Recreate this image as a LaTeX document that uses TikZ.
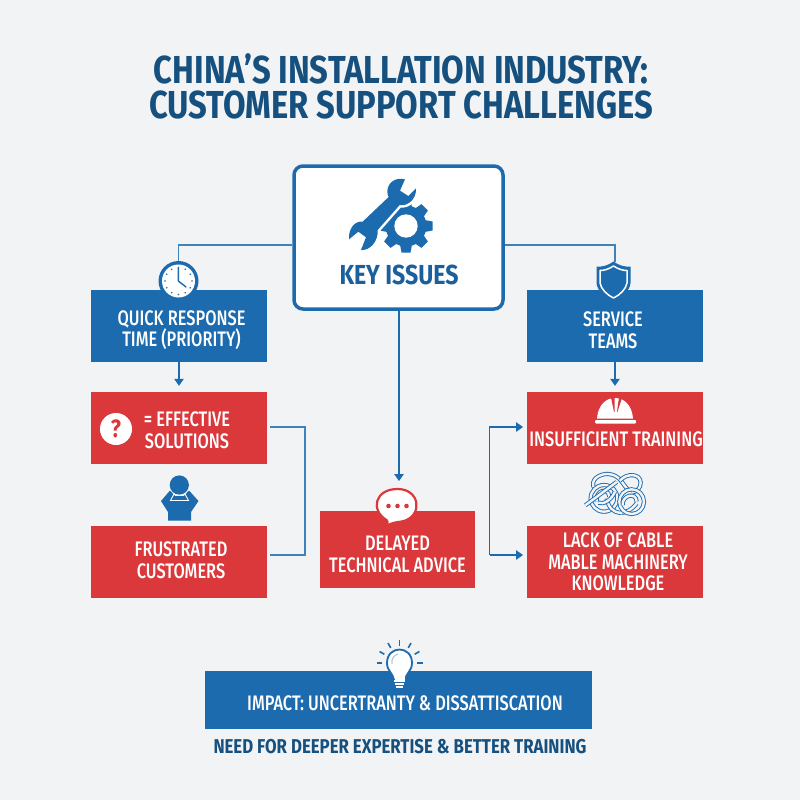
\documentclass[tikz,border=0pt]{standalone}
\usepackage{fontspec}
\setmainfont[FakeStretch=0.78]{Fira Sans Medium}
\newfontfamily\heavyfont[FakeStretch=0.84]{Fira Sans Bold}
\usetikzlibrary{arrows.meta,calc}
\definecolor{bgc}{HTML}{F2F3F5}
\definecolor{bluec}{HTML}{1C6BAE}
\definecolor{redc}{HTML}{DB383C}
\definecolor{navyc}{HTML}{16507F}
\definecolor{keyc}{HTML}{1B5F9C}
\definecolor{linec}{HTML}{3F83BC}
\tikzset{
 panel/.style={draw=none,minimum width=176pt,minimum height=72pt,inner sep=0pt},
 bluepanel/.style={panel,fill=bluec},
 redpanel/.style={panel,fill=redc},
 paneltext/.style={text=white,align=center,inner sep=0pt,font=\fontsize{21}{21.5}\selectfont},
 conn/.style={draw=linec,line width=1.2pt},
 arrowconn/.style={conn,draw=bluec,-{Triangle[length=7pt,width=9.5pt]}},
 cable/.style={draw=bluec,line width=0.9pt,double=bgc,double distance=2.4pt},
 titletext/.style={text=navyc,font=\heavyfont\fontsize{39}{35}\selectfont,align=center,inner sep=0pt},
}
\begin{document}
\begin{tikzpicture}[x=1pt,y=-1pt]
\useasboundingbox (0,0) rectangle (800,800);
\fill[bgc] (0,0) rectangle (800,800);
\node[titletext] (title) at (401,86.5) {CHINA’S INSTALLATION INDUSTRY:\\CUSTOMER SUPPORT CHALLENGES};

% key box
\node[draw=bluec,line width=3.5pt,fill=white,rounded corners=9pt,minimum width=209pt,minimum height=143pt,inner sep=0pt] (key) at (398.5,237.5) {};
\node[text=keyc,font=\heavyfont\fontsize{27.5}{28}\selectfont,inner sep=0pt] (keylabel) at (399,275) {KEY ISSUES};

% gear
\foreach \a in {0,45,...,315}{
 \fill[bluec,rotate around={\a:(406,226)}] (401.5,199.5) -- (410.5,199.5) -- (412.5,210) -- (399.5,210) -- cycle;
}
\fill[bluec] (406,226) circle (20.5);
\fill[white] (406,226) circle (11.7);
% wrench
\begin{scope}[shift={(280,150)},x=0.3333pt,y=-0.3333pt]
\def\wrenchpath{(375,88) .. controls (345,80) and (322,100) .. (322,125) .. controls (322,132) and (324,138) .. (326,141) -- (248,215) .. controls (225,212) and (205,235) .. (207,268) -- (235,245) -- (258,262) -- (243,300) .. controls (270,302) and (295,275) .. (293,240) -- (359,165) .. controls (385,170) and (410,145) .. (408,115) -- (385,138) -- (360,122) -- cycle}
\draw[white,line width=5pt,line join=round] \wrenchpath;
\fill[bluec] \wrenchpath;
\end{scope}

% panels
\node[bluepanel] (quick) at (179,325.5) {};
\node[paneltext] (quicklabel) at (181.5,330) {QUICK RESPONSE\\TIME (PRIORITY)};
\node[redpanel] (effective) at (179,428) {};
\node[paneltext] (efflabel) at (187,430) {= EFFECTIVE\\SOLUTIONS};
\node[redpanel] (frustrated) at (179,562) {};
\node[paneltext] (frulabel) at (181,560) {FRUSTRATED\\CUSTOMERS};
\node[bluepanel] (service) at (615,325.5) {};
\node[paneltext] (servlabel) at (613,330) {SERVICE\\TEAMS};
\node[redpanel] (insufficient) at (615,428) {};
\node[paneltext] (inslabel) at (616,439) {INSUFFICIENT TRAINING};
\node[redpanel] (lack) at (615,562) {};
\node[paneltext] (lacklabel) at (618,562) {LACK OF CABLE\\MABLE MACHINERY\\KNOWLEDGE};
\node[redpanel,minimum width=155pt,minimum height=77pt] (delayed) at (397.5,549.5) {};
\node[paneltext] (dellabel) at (397.5,554.5) {DELAYED\\TECHNICAL ADVICE};
\node[bluepanel,minimum width=387pt,minimum height=58pt] (impact) at (398.5,700) {};
\node[paneltext] (implabel) at (405,703) {IMPACT: UNCERTRANTY \& DISSATTISCATION};
\node[text=navyc,inner sep=0pt,font=\heavyfont\fontsize{20}{21}\selectfont] (need) at (400,746.7) {NEED FOR DEEPER EXPERTISE \& BETTER TRAINING};

% connectors from the key box
\coordinate (clocktop) at (178.5,262);
\coordinate (shieldtop) at (615,262);
\draw[conn] (key.west |- 0,245) -- (clocktop |- 0,245) -- (clocktop);
\draw[conn] (key.east |- 0,245) -- (shieldtop |- 0,245) -- (shieldtop);

% clock
\fill[bluec] (178.5,281) circle (20);
\fill[white] (178.5,281) circle (16.5);
\foreach \a in {0,30,...,330}{\fill[bluec] ($(178.5,281)+(\a:13.5)$) circle (0.9);}
\draw[bluec,line width=1.4pt,line cap=round] (178.3,268) -- (178.3,281) -- (186,287);

% vertical arrows
\draw[arrowconn,shorten >=6pt] (quick.south) -- (effective.north);
\draw[arrowconn,shorten >=6pt] (service.south) -- (insufficient.north);
\coordinate (delaytip) at (399,481);
\draw[arrowconn] (key.south -| delaytip) -- (delaytip);

% left bracket
\coordinate (effout) at (270,427);
\coordinate (fruout) at (270,555);
\coordinate (lbk) at (305,427);
\coordinate (lbk2) at (305,555);
\draw[conn] (effout) -- (lbk) -- (lbk2) -- (fruout);
% right bracket
\coordinate (rbk) at (489.5,427);
\coordinate (rbk2) at (489.5,555);
\coordinate (inspt) at (523,427);
\coordinate (lackpt) at (523,555);
\draw[arrowconn] (rbk2) -- (rbk) -- (inspt);
\draw[arrowconn] (rbk2) -- (lackpt);

% question icon
\fill[white] (116,429) circle (16);
\node[text=redc,font=\heavyfont\fontsize{25}{25}\selectfont,inner sep=0pt] (qmark) at (116,429) {?};

% person
\fill[bluec] (179.3,485) circle (9.6);
\fill[bluec] (161,501) -- (170,490.5) -- (175,496) -- (184,496) -- (189,490.5) -- (198.5,501) -- (191,512) -- (191,520.5) -- (168,520.5) -- (168,512) -- cycle;
\draw[white,line width=0.9pt] (174,494) -- (170.5,500.5) -- (188.5,500.5) -- (185,494);

% shield
\fill[bluec] (613.5,261.5) .. controls (607,266) and (602,267) .. (596.5,266.5) -- (596.5,283) .. controls (597,291) and (606,298) .. (613.5,301) .. controls (621,298) and (630,291) .. (630.5,283) -- (630.5,266.5) .. controls (625,267) and (620,266) .. (613.5,261.5) -- cycle;
\draw[white,line width=1.5pt,line join=round] (613.5,266) .. controls (608,269.5) and (604,270.5) .. (600,270.5) -- (600,283) .. controls (601,289) and (607,295) .. (613.5,298) .. controls (620,295) and (626,289) .. (627,283) -- (627,270.5) .. controls (623,270.5) and (619,269.5) .. (613.5,266) -- cycle;

% hard hat
\fill[white] (597,418.5) .. controls (598,405) and (606,398) .. (615,398) .. controls (624,398) and (632,405) .. (633,418.5) -- cycle;
\fill[white,rounded corners=1pt] (595,420) rectangle (636,423.5);
\fill[redc] (611,397.5) -- (614.5,397.5) -- (614.6,412) -- (614,412) -- cycle;
\fill[redc] (619,397.5) -- (622,398) -- (617.4,412) -- (616.9,412) -- cycle;

% cable knot
\begin{scope}[shift={(480,460)},x=0.3333pt,y=-0.3333pt]
\draw[cable] (345,88) .. controls (325,60) and (360,40) .. (385,42) .. controls (420,45) and (425,70) .. (445,90);
\draw[cable] (420,62) .. controls (440,38) and (482,40) .. (482,68) .. controls (482,85) and (470,95) .. (455,98);
\draw[cable] (372,115) ellipse [x radius=40,y radius=40];
\draw[cable] (380,115) .. controls (390,170) and (440,170) .. (470,130);
\draw[cable] (455,125) ellipse [x radius=37,y radius=37];
\draw[cable] (428,135) .. controls (425,105) and (470,95) .. (470,125);
\draw[cable] (350,125) .. controls (345,90) and (385,80) .. (388,110);
\draw[cable] (316,136) -- (410,66);
\draw[cable] (355,128) .. controls (370,135) and (395,120) .. (405,95);
\end{scope}

% speech bubble
\draw[redc,line width=2.2pt,fill=white] (386,526) .. controls (388,522) and (388,521) .. (386.5,520) .. controls (370,510) and (375,489) .. (397.5,489) .. controls (420,489) and (423,515) .. (404,521) .. controls (399,522.5) and (396,521) .. (386,526) -- cycle;
\foreach \p in {-9,0,9}{\fill[redc] (397.5+\p,506) circle (2.3);}

% bulb
\foreach \a in {180,210,240,270,300,330,360}{
 \draw[bluec,line width=1.6pt] ($(399.5,663)+(\a:17.5)$) -- ($(399.5,663)+(\a:23)$);
}
\fill[white,draw=bluec,line width=1.8pt] (394,680) .. controls (393,673) and (387,671) .. (387,663) .. controls (387,645) and (412,645) .. (412,663) .. controls (412,671) and (406,673) .. (405,680) -- cycle;
\fill[white] (394.5,671.5) rectangle (404.5,680);
\draw[white,line width=1.1pt] (394,681) -- (405,681) (395,684) -- (404,684) (396,687) -- (403,687);
\draw[bluec!35!white,line width=1.2pt] (392,664) .. controls (391,659) and (394,655) .. (398,654);
\end{tikzpicture}
\end{document}
